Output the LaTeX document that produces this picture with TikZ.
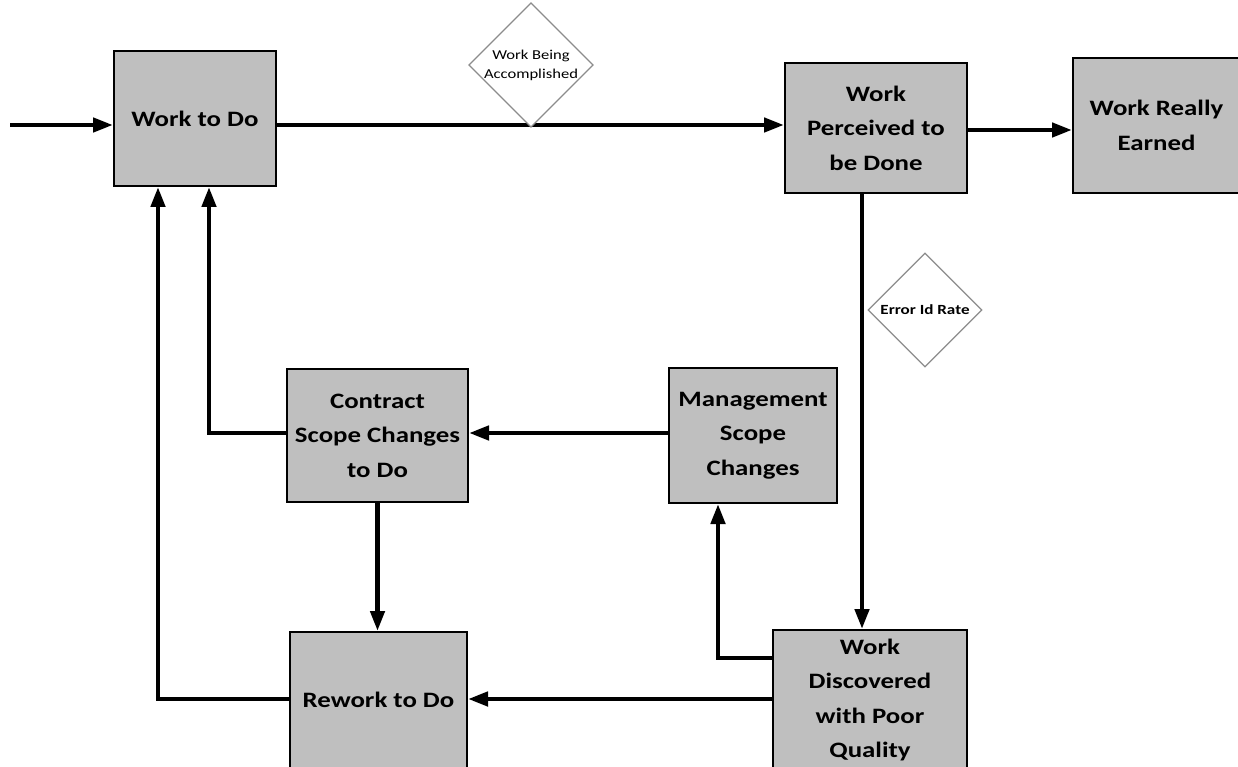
\documentclass[tikz,border=0pt]{standalone}
\usepackage{fontspec}
\setmainfont{Carlito}[FakeStretch=1.22]
\usetikzlibrary{arrows.meta,shapes.geometric}
\definecolor{boxgray}{RGB}{191,191,191}
\definecolor{rategray}{RGB}{140,140,140}
\begin{document}
\begin{tikzpicture}[x=1pt,y=-1pt,
  stock/.style={draw=black, line width=2pt, fill=boxgray, inner sep=0pt,
    align=center, font=\fontsize{22}{34.5}\selectfont\bfseries},
  rate/.style={diamond, draw=rategray, line width=1.2pt, fill=white,
    inner sep=0pt, align=center},
  flow/.style={line width=4.5pt, -{Triangle[length=20pt,width=14pt]}}
]
\useasboundingbox (0,0) rectangle (1238,767);

% stocks
\node[stock, minimum width=162pt, minimum height=135pt] (wtd) at (195,118.5) {Work to Do};
\node[stock, minimum width=182pt, minimum height=130pt] (wpd) at (876,128) {Work\\Perceived to\\be Done};
\node[stock, minimum width=167pt, minimum height=135pt] (wre) at (1156.5,125.5) {Work Really\\Earned};
\node[stock, minimum width=181pt, minimum height=133pt] (csc) at (377.5,435.5) {Contract\\Scope Changes\\to Do};
\node[stock, minimum width=168pt, minimum height=135pt] (msc) at (753,435.5) {Management\\Scope\\Changes};
\node[stock, minimum width=194pt, minimum height=140pt] (wdq) at (870,700) {Work\\Discovered\\with Poor\\Quality};
\node[stock, minimum width=177pt, minimum height=136pt] (rtd) at (378.5,700) {Rework to Do};

% inflow
\coordinate (src) at (10,125);
\draw[flow] (src) -- ([yshift=-6.5pt]wtd.west);

% main chain
\draw[flow] ([yshift=-6.5pt]wtd.east) -- ([yshift=-6.5pt]wtd.east -| wpd.west);
\draw[flow] ([yshift=-2pt]wpd.east) -- ([yshift=-2pt]wpd.east -| wre.west);
\draw[flow] ([xshift=-14pt]wpd.south) -- ([xshift=-14pt]wpd.south |- wdq.north);

% feedback loops
\draw[flow] ([yshift=1pt]wdq.west) -- ([yshift=1pt]wdq.west -| rtd.east);
\draw[flow] ([yshift=42pt]wdq.west) -| ([xshift=-35pt]msc.south);
\draw[flow] ([yshift=2.5pt]msc.west) -- ([yshift=2.5pt]msc.west -| csc.east);
\draw[flow] ([yshift=2.5pt]csc.west) -| ([xshift=14pt]wtd.south);
\draw[flow] (csc.south) -- (csc.south |- rtd.north);
\draw[flow] ([yshift=1pt]rtd.west) -| ([xshift=-37pt]wtd.south);

% rates
\node[rate, minimum width=116pt, minimum height=110pt,
  font=\fontsize{13.6}{19}\selectfont] (wba) at (531,65) {Work Being\\Accomplished};
\node[rate, minimum width=114pt, minimum height=114pt,
  font=\fontsize{14}{17}\selectfont\bfseries] (eir) at (925,310) {Error Id Rate};
\end{tikzpicture}
\end{document}
